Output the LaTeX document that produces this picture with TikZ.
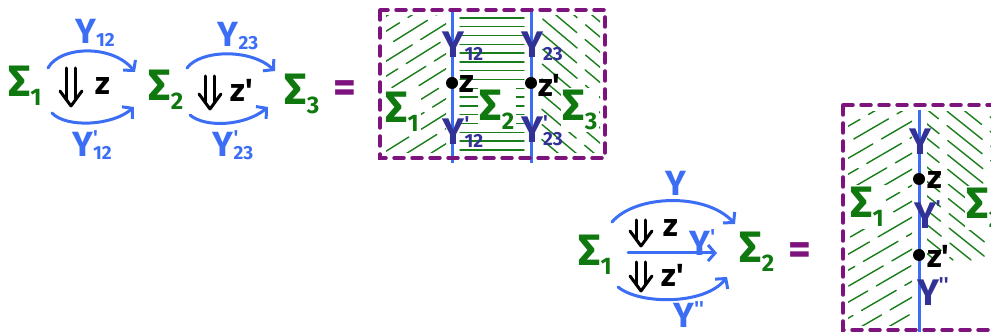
\documentclass[tikz,border=0pt]{standalone}
\usepackage{fontspec}
\setmainfont{Fira Sans}
\usetikzlibrary{arrows.meta}
\definecolor{sgreen}{RGB}{15,120,15}
\definecolor{hgreen}{RGB}{25,125,25}
\definecolor{ablue}{RGB}{60,110,245}
\definecolor{iblue}{RGB}{50,50,150}
\definecolor{dpurple}{RGB}{125,20,125}
\newcommand\mySig[1]{Σ\raisebox{-0.2em}{\fontsize{24}{24}\selectfont #1}}
\newcommand\myY[2]{Y\rlap{\raisebox{0.36em}{\fontsize{20}{20}\selectfont #1}}\raisebox{-0.08em}{\fontsize{19}{19}\selectfont #2}}
\newcommand\pr{\textquotesingle}
\newcommand\myDbl[2]{%
  \draw[dblline] ([xshift=-4.5pt]#1) -- ([shift={(-4.5pt,6pt)}]#2);
  \draw[dblline] ([xshift=4.5pt]#1) -- ([shift={(4.5pt,6pt)}]#2);
  \draw[dblline] ([shift={(-11pt,15pt)}]#2) -- (#2) -- ([shift={(11pt,15pt)}]#2);}
\tikzset{
  sig/.style={text=sgreen, font=\fontsize{44}{44}\selectfont\bfseries, inner sep=1pt},
  sigb/.style={sig, fill=white, inner sep=2pt},
  ylab/.style={text=ablue, font=\fontsize{35}{35}\selectfont\bfseries, inner sep=0pt},
  ylabd/.style={ylab, text=iblue, font=\fontsize{37}{37}\selectfont\bfseries},
  zlab/.style={font=\fontsize{32}{32}\selectfont\bfseries, inner sep=0pt},
  eq/.style={text=dpurple, font=\fontsize{44}{44}\selectfont\bfseries, inner sep=0pt},
  arr/.style={draw=ablue, line width=3pt, line cap=round, -{Straight Barb[length=7pt,width=16pt]}},
  dblline/.style={draw=black, line width=3pt, line cap=round, line join=round},
  zdot/.style={circle, fill=black, inner sep=0pt, minimum size=12pt},
  wire/.style={draw=ablue, line width=3pt},
  frame/.style={draw=dpurple, line width=3.5pt, dash pattern=on 10pt off 8pt, line cap=round},
  hatch/.style={draw=hgreen, line width=1.4pt, line cap=round}
}
\begin{document}
\begin{tikzpicture}[x=1pt, y=-1pt]
\useasboundingbox (0,0) rectangle (991,336);
% ---------- top-left composite ----------
\node[sig] (s1) at (25,86) {\mySig{1}};
\node[sig] (s2) at (166,90) {\mySig{2}};
\node[sig] (s3) at (302,94) {\mySig{3}};
\node[eq] (e1) at (345,92) {=};
\coordinate (a1s) at (48,68); \coordinate (a1e) at (135,72);
\draw[arr] (a1s) .. controls (60,46) and (112,44) .. (a1e);
\node[ylab] (y12) at (95,33) {\myY{}{12}};
\coordinate (b1s) at (52,113); \coordinate (b1e) at (134,107);
\draw[arr] (b1s) .. controls (66,128) and (112,126) .. (b1e);
\node[ylab] (y12p) at (92,145) {\myY{\pr}{12}};
\coordinate (d1s) at (71,68); \coordinate (d1e) at (71,106);
\myDbl{d1s}{d1e}
\node[zlab] (z1) at (103,86) {z};
\coordinate (a2s) at (187,68); \coordinate (a2e) at (275,71);
\draw[arr] (a2s) .. controls (200,50) and (250,48) .. (a2e);
\node[ylab] (y23) at (238,36) {\myY{}{23}};
\coordinate (b2s) at (190,115); \coordinate (b2e) at (268,107);
\draw[arr] (b2s) .. controls (205,128) and (245,126) .. (b2e);
\node[ylab] (y23p) at (233,145) {\myY{\pr}{23}};
\coordinate (d2s) at (210,76); \coordinate (d2e) at (210,109);
\myDbl{d2s}{d2e}
\node[zlab] (z2) at (242,90) {z\pr};
% ---------- box 1 ----------
\begin{scope}
\clip (386,16) rectangle (446,153);
\foreach \k [evaluate=\k as \ph using {mod(\k*17,49)}] in {0,...,13}
  \draw[hatch, dash pattern=on 40pt off 10pt, dash phase=\ph pt] (380,20+\k*15) -- ++(80,-50);
\end{scope}
\foreach \k in {0,...,15} \draw[hatch] (460,18+\k*8.8) -- (524,18+\k*8.8);
\begin{scope}
\clip (538,16) rectangle (600,153);
\foreach \k [evaluate=\k as \ph using {mod(\k*23,55)}] in {0,...,13}
  \draw[hatch, dash pattern=on 45pt off 11pt, dash phase=\ph pt] (370+\k*18,10) -- ++(190,160);
\end{scope}
\node[sigb] (bs1) at (402,112) {\mySig{1}};
\node[sigb] (bs2) at (497,110) {\mySig{2}};
\node[sigb] (bs3) at (580,110) {\mySig{3}};
\coordinate (w1t) at (452,8); \coordinate (w1b) at (452,163);
\coordinate (w2t) at (531,8); \coordinate (w2b) at (531,163);
\draw[wire] (w1t) -- (w1b);
\draw[wire] (w2t) -- (w2b);
\draw[frame] (380,10) rectangle (605,158);
\node[zdot] (zd1) at (452,83) {};
\node[zdot] (zd2) at (531,83) {};
\node[zlab, anchor=west] (zt1) at (459,84) {z};
\node[zlab, anchor=west] (zt2) at (538,85) {z\pr};
\node[ylabd] (by12) at (463,46) {\myY{}{12}};
\node[ylabd] (by12p) at (463,132) {\myY{\pr}{12}};
\node[ylabd] (by23) at (542,46) {\myY{}{23}};
\node[ylabd] (by23p) at (542,131) {\myY{\pr}{23}};
% ---------- bottom composite ----------
\node[sig] (t1) at (595,255) {\mySig{1}};
\node[sig] (t2) at (757,252) {\mySig{2}};
\node[eq] (e2) at (800,254) {=};
\coordinate (u1s) at (612,222); \coordinate (u1e) at (735,224);
\draw[arr] (u1s) .. controls (635,195) and (705,192) .. (u1e);
\node[ylab] (ty) at (676,183) {Y};
\coordinate (m1s) at (628,253); \coordinate (m1e) at (717,253);
\draw[arr] (m1s) -- (m1e);
\node[ylab] (typ) at (700,244) {\myY{\pr}{}};
\coordinate (l1s) at (618,287); \coordinate (l1e) at (727,277);
\draw[arr] (l1s) .. controls (640,305) and (705,305) .. (l1e);
\node[ylab] (typp) at (684,316) {\myY{\pr\pr}{}};
\coordinate (d3s) at (641,220); \coordinate (d3e) at (641,246);
\myDbl{d3s}{d3e}
\node[zlab] (z3) at (671,228) {z};
\coordinate (d4s) at (641,262); \coordinate (d4e) at (641,291);
\myDbl{d4s}{d4e}
\node[zlab] (z4) at (673,275) {z\pr};
% ---------- box 2 ----------
\begin{scope}
\clip (848,112) rectangle (912,326);
\foreach \k [evaluate=\k as \ph using {mod(\k*17,49)}] in {0,...,16}
  \draw[hatch, dash pattern=on 40pt off 10pt, dash phase=\ph pt] (840,115+\k*16) -- ++(100,-58);
\end{scope}
\begin{scope}
\clip (927,112) rectangle (991,326);
\foreach \k [evaluate=\k as \ph using {mod(\k*23,55)}] in {0,...,20}
  \draw[hatch, dash pattern=on 45pt off 11pt, dash phase=\ph pt] (645+\k*18,100) -- ++(200,160);
\end{scope}
\node[sigb] (cs1) at (867,207) {\mySig{1}};
\node[sigb] (cs2) at (984,208) {\mySig{2}};
\coordinate (w3t) at (919,110); \coordinate (w3b) at (919,332);
\draw[wire] (w3t) -- (w3b);
\draw[frame] (843,105) rectangle (1010,330);
\node[zdot] (zd3) at (919,179) {};
\node[zdot] (zd4) at (919,255) {};
\node[zlab, anchor=west] (zt3) at (927,180) {z};
\node[zlab, anchor=west] (zt4) at (927,256) {z\pr};
\node[ylabd] (cy) at (920,142) {Y};
\node[ylabd] (cyp) at (925,216) {\myY{\pr}{}};
\node[ylabd] (cypp) at (928,293) {\myY{\pr\pr}{}};
\end{tikzpicture}
\end{document}
